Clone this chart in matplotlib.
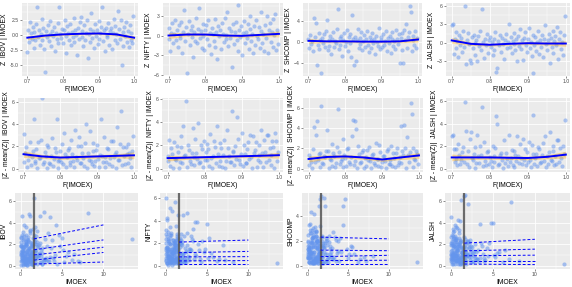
import numpy as np
import matplotlib
matplotlib.use("Agg")
import matplotlib.pyplot as plt
from matplotlib.ticker import AutoMinorLocator, FixedLocator

plt.rcParams['font.family'] = ['Liberation Sans', 'DejaVu Sans']

# ----------------------------------------------
# Dados
# ----------------------------------------------
markets = ["IBOV", "NIFTY", "SHCOMP", "JALSH"]

# F(IMOEX) na cauda (> 0.7): grade da CDF empírica, 120 observações
f_imoex = np.linspace(0.7, 0.9975, 120)

z_ibov = [-2.9, 0.8, -1.2, 2.1, 0.3, -0.6, 1.4, -2.2, 0.5, -0.9,
          1.8, 4.6, -0.3, 0.9, -1.6, 0.2, 2.6, -0.8, 1.1, -2.4,
          -6.2, 0.6, -0.4, 1.7, -1.0, 0.1, 2.3, -1.8, 0.7, -0.2,
          1.3, -2.6, 0.4, -0.7, 2.0, -1.3, 4.6, 0.2, -0.5, 1.0,
          -1.4, 0.8, 2.4, -0.2, -3.0, 1.5, 0.3, -0.9, 1.9, -1.7,
          0.5, -0.4, 2.8, -1.1, 0.9, 0.0, -3.3, 1.2, -0.6, 2.2,
          3.0, -0.3, 0.7, -1.9, 1.6, -0.8, 0.4, 2.5, -3.8, 0.1,
          -1.2, 1.0, 3.6, -0.5, 0.6, -2.1, 1.8, -0.1, 0.9, -1.5,
          2.3, -0.7, 0.3, 1.4, 4.6, -1.0, 0.8, -2.7, 1.2, 0.0,
          -0.4, 2.0, -1.6, 0.6, 1.1, -2.3, 0.4, 2.7, -0.9, 1.5,
          0.2, -1.3, 3.9, 1.0, -0.6, 2.4, -5.0, 0.5, -1.8, 1.3,
          -0.2, 2.1, -1.1, 0.7, -2.0, 1.6, -0.8, 0.3, -1.4, 3.1]
z_nifty = [-0.5, 1.2, -2.3, 0.4, 1.9, -1.1, 0.2, 2.4, -0.7, 0.9,
           -1.8, 1.6, 0.1, -0.4, 2.0, -2.6, 0.6, 3.8, -0.9, 1.3,
           -5.6, 0.3, 2.2, -1.4, 0.8, -0.2, 1.5, -3.3, 0.5, -0.8,
           2.7, -1.2, 1.0, 4.1, -0.3, 0.7, -1.9, 1.8, 0.0, -2.2,
           0.9, 1.6, -0.6, 2.3, -1.5, 0.4, -2.8, 1.1, 0.2, -0.9,
           2.5, -1.7, 0.6, -3.5, 1.4, -0.1, 0.8, -2.0, 1.9, 0.3,
           -1.0, 2.6, 0.1, -0.5, 3.5, -1.6, 1.2, -0.4, 0.7, -4.8,
           1.7, -1.3, 0.5, 2.1, -0.7, 4.6, -2.4, 0.9, -0.2, 1.4,
           -2.9, 0.4, 2.2, -1.1, 0.6, -0.3, 1.8, -2.1, 1.0, 3.0,
           -0.8, 0.2, -2.6, 1.5, -1.4, 2.4, 0.0, -0.6, 1.3, -1.9,
           0.7, 3.5, -1.2, 0.3, -2.3, 1.6, -0.4, 3.0, -2.7, 0.9,
           1.9, -1.0, 0.5, 2.5, -1.7, 0.1, 3.2, -2.2, 0.8, -1.3]
z_shcomp = [0.6, -1.1, 1.3, -0.4, 0.2, -1.7, 4.4, 0.9, 3.6, -4.4,
            -0.6, 1.7, -1.3, 0.4, -5.9, 0.8, -0.2, 1.5, -0.9, 2.0,
            4.1, -1.5, 0.3, -0.7, 1.1, -2.2, 0.5, 1.8, -1.0, 0.1,
            -0.3, 2.4, 6.1, -1.4, 0.7, -0.5, 1.2, -2.6, 0.4, 1.6,
            -0.8, 0.0, 2.2, -1.8, 0.9, -0.2, 1.4, -2.9, 5.1, 0.6,
            -4.4, 1.0, -3.6, 0.3, 2.5, -1.2, 0.8, -0.4, 1.9, -1.6,
            0.2, 1.3, -0.9, 0.5, 2.1, -0.6, -1.9, 1.0, 0.3, -1.1,
            1.7, -0.3, 0.6, -2.3, 1.2, 0.0, -0.7, 2.6, -1.4, 0.4,
            0.9, -1.0, 1.5, -0.5, 0.2, 2.0, -1.7, 0.7, -0.2, 1.1,
            -2.0, 0.5, 1.8, -0.8, 0.1, -1.3, 2.3, 0.6, -0.4, 1.4,
            -3.9, 0.8, -1.5, 1.6, -4.0, 2.3, 0.3, 3.4, -1.1, 0.9,
            1.9, 6.7, 5.6, -1.8, 0.4, 1.2, -0.6, 2.0, -1.2, 0.7]
z_jalsh = [2.9, 3.0, -1.8, 0.6, 1.7, -0.9, 0.3, -2.2, 1.2, -0.4,
           0.8, -1.5, 1.9, -0.6, 5.9, -3.4, 0.4, 1.6, -0.2, -2.7,
           -3.3, 0.9, -0.8, 1.3, 0.0, -1.9, 0.5, -3.0, 1.1, -0.5,
           2.0, -1.2, 5.5, 0.2, -2.4, 0.7, -0.3, 1.5, -1.6, 0.4,
           1.0, -0.7, 0.1, -2.0, 0.6, -1.1, 1.8, -4.7, -4.0, 0.3,
           -0.4, 1.2, -1.4, 0.8, -0.1, -2.6, 0.5, 1.4, -0.9, 0.2,
           3.0, -0.6, 0.9, -1.7, 0.3, 1.6, -0.2, -1.2, 0.7, -2.9,
           1.1, -0.5, 2.2, -1.0, 0.4, -2.7, 0.8, 1.7, -0.3, -1.5,
           0.6, 2.4, -0.8, 0.1, -2.1, -4.8, 1.3, -0.4, 0.9, -1.3,
           0.2, 1.9, -1.8, 0.5, -0.6, 1.2, -2.3, 0.7, 2.9, -0.2,
           -1.1, 0.4, 1.5, -3.3, 0.8, -0.7, 2.0, -1.6, 0.3, 1.1,
           -0.4, 2.5, -2.6, 0.6, 1.8, -1.0, 0.2, -2.0, 1.3, 4.3]
z_top = [z_ibov, z_nifty, z_shcomp, z_jalsh]

# curvas suavizadas (loess)
smooth_x = [0.70, 0.75, 0.80, 0.85, 0.90, 0.95, 1.00]
smooth_top = [[-0.45, -0.1, 0.1, 0.2, 0.25, 0.1, -0.45],
              [0.0, 0.15, 0.15, 0.0, -0.05, 0.1, 0.25],
              [0.2, 0.1, 0.1, 0.05, 0.05, 0.1, 0.45],
              [0.4, -0.15, -0.3, -0.15, -0.05, -0.1, -0.1]]
band_top = [[0.35, 0.22, 0.2, 0.2, 0.2, 0.22, 0.35],
            [0.45, 0.25, 0.22, 0.22, 0.22, 0.25, 0.45],
            [0.45, 0.25, 0.22, 0.22, 0.22, 0.25, 0.5],
            [0.45, 0.25, 0.22, 0.22, 0.22, 0.25, 0.45]]
smooth_mid = [[1.3, 1.1, 1.0, 1.05, 1.1, 1.15, 1.2],
              [0.9, 0.94, 0.98, 1.02, 1.06, 1.1, 1.15],
              [0.95, 1.15, 1.2, 1.1, 0.9, 1.1, 1.3],
              [1.0, 1.0, 1.0, 0.97, 0.95, 1.05, 1.25]]
band_mid = [[0.3, 0.18, 0.16, 0.16, 0.16, 0.18, 0.3],
            [0.25, 0.15, 0.12, 0.12, 0.12, 0.15, 0.25],
            [0.3, 0.2, 0.18, 0.18, 0.18, 0.2, 0.3],
            [0.3, 0.18, 0.16, 0.16, 0.16, 0.18, 0.3]]

# |IMOEX| e |mercado| (todas as observações)
abs_imoex = [0.05, 0.42, 0.88, 1.31, 0.17, 0.63, 1.05, 1.52, 0.29, 0.76,
             1.18, 0.09, 0.55, 0.97, 1.44, 0.22, 0.69, 1.12, 0.36, 0.81,
             1.27, 0.03, 0.48, 0.92, 1.39, 0.14, 0.59, 1.01, 1.58, 0.33,
             0.72, 1.21, 0.07, 0.51, 0.94, 1.35, 0.26, 0.66, 1.09, 1.49,
             0.12, 0.57, 0.85, 1.24, 0.39, 0.01, 0.79, 1.14, 1.55, 0.45,
             0.19, 0.61, 1.03, 1.42, 0.31, 0.74, 1.16, 0.08, 0.53, 0.99,
             1.33, 0.24, 0.68, 1.07, 1.47, 0.15, 0.58, 0.90, 1.29, 0.41,
             0.04, 0.83, 1.20, 1.56, 0.35, 0.71, 1.11, 0.20, 0.64, 1.37,
             0.10, 0.50, 0.96, 1.26, 0.44, 0.86, 1.53, 0.27, 0.77, 1.15,
             0.06, 0.47, 0.89, 1.40, 0.18, 0.62, 1.04, 1.46, 0.32, 0.73,
             1.19, 0.11, 0.54, 0.98, 1.36, 0.25, 0.67, 1.08, 1.59, 0.38,
             0.80, 1.23, 0.02, 0.46, 0.93, 1.30, 0.21, 0.60, 1.13, 1.51,
             0.13, 0.56, 0.84, 1.25, 0.40, 0.16, 0.78, 1.17, 1.43, 0.49,
             0.23, 0.65, 1.06, 1.45, 0.30, 0.75, 1.22, 0.09, 0.52, 1.00,
             1.68, 2.05, 2.41, 1.83, 2.77, 1.72, 2.19, 3.12, 1.95, 2.58,
             1.76, 2.33, 2.90, 1.88, 3.45, 2.12, 1.66, 2.64, 2.01, 3.28,
             1.79, 2.47, 1.92, 2.85, 2.26, 1.70, 3.05, 2.16, 1.86, 2.70,
             2.38, 1.74, 3.36, 2.09, 1.98, 2.54, 1.81, 2.95, 2.22, 3.58,
             1.90, 2.63, 1.67, 2.30, 3.18, 2.00, 2.81, 1.77, 2.44, 3.50,
             3.8, 4.1, 4.6, 5.0, 5.3, 4.3, 3.9, 5.7, 6.2, 4.8,
             6.9, 7.2, 8.1, 5.5, 4.4, 3.7, 6.5, 13.5, 4.0, 5.1]

abs_ibov = [0.4, 1.2, 0.7, 2.1, 4.6, 0.2, 1.6, 0.9, 2.4, 0.5,
            1.0, 0.1, 1.8, 4.8, 0.6, 1.4, 0.3, 2.2, 3.8, 1.1,
            0.8, 2.6, 0.2, 1.5, 1.9, 0.7, 2.9, 0.4, 6.35, 1.3,
            0.6, 1.7, 1.0, 0.3, 2.3, 1.2, 0.5, 1.9, 4.6, 0.8,
            1.5, 0.9, 2.7, 0.2, 0.6, 1.1, 1.4, 3.2, 0.3, 2.0,
            0.7, 3.6, 0.5, 1.3, 0.1, 2.5, 0.9, 1.8, 0.4, 1.6,
            0.2, 1.0, 2.1, 0.7, 3.4, 0.5, 1.5, 0.3, 1.2, 2.8,
            1.9, 0.6, 0.4, 2.3, 1.7, 0.1, 3.0, 0.8, 2.0, 0.5,
            1.3, 0.3, 1.1, 1.8, 0.9, 2.4, 0.2, 1.6, 0.6, 3.3,
            2.2, 0.8, 0.3, 1.4, 1.0, 1.9, 0.6, 2.6, 0.2, 1.2,
            0.4, 1.7, 0.9, 0.2, 2.0, 3.1, 1.3, 0.5, 1.5, 0.7,
            1.1, 0.3, 1.8, 2.5, 0.6, 1.0, 0.4, 2.2, 1.4, 0.1,
            2.9, 0.5, 1.6, 0.9, 0.3, 1.2, 2.0, 0.7, 1.8, 0.2,
            1.4, 2.3, 0.8, 0.4, 1.7, 0.1, 1.1, 2.7, 0.6, 1.5,
            0.3, 1.8, 0.9, 2.8, 0.5, 3.6, 1.2, 0.7, 2.2, 0.2,
            1.4, 4.6, 0.6, 2.0, 0.4, 1.0, 2.6, 1.6, 0.2, 3.0,
            0.8, 0.3, 1.7, 5.0, 1.1, 2.4, 0.5, 1.9, 0.9, 0.6,
            2.1, 1.3, 0.4, 0.7, 3.2, 0.2, 1.5, 2.5, 1.0, 4.5,
            0.6, 1.2, 2.9, 0.3, 1.8, 0.9, 0.4, 2.0, 1.5, 0.8,
            2.4, 1.0, 2.9, 2.6, 0.3, 3.8, 0.7, 1.3, 0.5, 1.8,
            0.4, 0.3, 4.9, 0.9, 0.2, 1.6, 1.1, 2.45, 0.4, 1.5]
abs_nifty = [6.05, 0.9, 0.5, 1.8, 4.2, 1.3, 0.2, 2.4, 0.7, 1.5,
             5.7, 0.4, 1.9, 0.8, 4.5, 4.1, 0.3, 1.2, 2.2, 4.9,
             0.6, 1.6, 5.1, 2.0, 0.9, 0.2, 2.7, 1.4, 0.5, 3.0,
             1.1, 3.5, 0.7, 0.3, 1.7, 2.5, 1.0, 0.4, 2.1, 1.3,
             0.2, 1.5, 2.3, 0.8, 0.5, 2.8, 1.2, 0.6, 1.9, 0.3,
             1.7, 0.4, 1.0, 2.6, 0.9, 0.1, 1.8, 3.2, 0.6, 1.4,
             0.3, 2.2, 0.7, 1.5, 0.2, 1.1, 3.4, 0.5, 1.6, 0.9,
             2.4, 0.6, 1.3, 0.2, 2.0, 0.8, 0.4, 1.7, 2.9, 0.7,
             1.0, 1.9, 0.3, 1.2, 0.6, 2.3, 1.5, 0.1, 0.9, 2.1,
             0.5, 2.7, 1.1, 0.4, 1.6, 0.8, 2.0, 0.3, 1.3, 0.6,
             1.8, 0.2, 2.5, 1.0, 0.7, 1.4, 0.3, 2.2, 1.1, 0.9,
             0.4, 1.6, 2.0, 0.6, 1.2, 0.2, 2.6, 1.0, 0.5, 1.8,
             1.3, 0.7, 0.2, 2.3, 1.5, 0.9, 0.4, 1.7, 2.8, 0.3,
             0.8, 1.2, 1.9, 0.5, 2.4, 1.1, 0.6, 1.4, 0.2, 1.6,
             0.9, 4.5, 1.3, 2.3, 0.5, 1.7, 0.3, 2.6, 1.1, 0.7,
             2.0, 0.4, 1.5, 2.8, 0.6, 1.0, 0.2, 4.65, 1.8, 3.3,
             0.5, 1.2, 2.1, 0.8, 0.3, 2.5, 1.4, 0.6, 1.9, 0.9,
             1.6, 0.3, 2.2, 1.0, 0.7, 2.9, 0.4, 1.3, 2.6, 3.9,
             0.2, 1.8, 1.1, 0.5, 2.4, 0.8, 1.5, 2.2, 0.3, 1.0,
             3.9, 0.6, 1.2, 3.75, 2.5, 0.3, 1.9, 0.8, 0.4, 1.5,
             1.8, 0.5, 0.3, 1.1, 2.2, 0.9, 0.6, 0.2, 1.4, 0.7]
abs_shcomp = [1.1, 4.35, 0.6, 2.2, 0.3, 1.5, 2.8, 0.9, 3.4, 0.4,
              1.7, 0.8, 0.2, 3.1, 4.8, 1.3, 0.5, 2.0, 0.7, 4.2,
              0.9, 2.5, 1.4, 0.3, 1.1, 3.3, 1.8, 0.6, 5.4, 1.0,
              2.3, 0.4, 1.6, 2.9, 0.2, 1.2, 0.7, 3.0, 1.9, 0.5,
              0.3, 1.9, 1.1, 0.6, 2.6, 0.9, 0.2, 1.4, 3.2, 0.8,
              1.5, 0.2, 2.4, 0.7, 1.0, 0.4, 2.0, 1.3, 0.6, 2.7,
              0.4, 1.7, 0.9, 2.1, 0.5, 1.2, 0.3, 1.8, 0.7, 1.0,
              2.0, 1.1, 0.4, 1.6, 2.9, 0.3, 1.3, 0.6, 2.3, 0.9,
              0.6, 2.2, 1.5, 0.2, 1.8, 0.7, 1.0, 2.6, 0.4, 1.4,
              1.9, 0.5, 0.8, 2.0, 0.3, 1.6, 2.4, 0.9, 1.2, 0.2,
              0.7, 1.3, 2.1, 0.5, 1.7, 1.0, 0.4, 2.8, 0.8, 1.5,
              0.3, 1.8, 0.6, 1.1, 2.3, 0.2, 1.4, 0.9, 2.0, 0.5,
              1.2, 0.4, 2.7, 0.8, 1.9, 0.6, 0.3, 1.5, 1.0, 2.2,
              0.9, 2.5, 0.5, 1.3, 0.2, 1.7, 2.0, 0.7, 1.1, 0.4,
              1.2, 5.5, 0.5, 2.3, 1.6, 0.3, 4.8, 2.7, 0.8, 1.9,
              0.6, 2.1, 1.1, 1.7, 0.4, 0.9, 5.6, 2.4, 1.4, 0.7,
              2.0, 0.3, 1.5, 0.8, 2.2, 1.0, 0.5, 1.8, 0.2, 1.3,
              0.9, 1.6, 2.3, 0.4, 1.1, 0.6, 2.4, 1.4, 0.3, 1.0,
              1.8, 0.7, 1.2, 2.0, 0.5, 1.5, 0.9, 0.2, 1.7, 2.1,
              2.0, 1.1, 5.4, 0.6, 1.6, 3.3, 0.4, 0.9, 0.3, 1.3,
              0.7, 0.4, 0.8, 1.5, 4.8, 1.2, 0.5, 0.3, 2.2, 0.9]
abs_jalsh = [4.5, 0.8, 4.3, 1.6, 0.3, 2.2, 4.2, 6.5, 1.1, 0.5,
             6.15, 1.4, 0.6, 2.0, 0.9, 3.4, 1.7, 0.2, 2.6, 1.0,
             0.4, 2.1, 3.8, 0.7, 1.3, 0.5, 2.4, 1.8, 0.9, 3.1,
             1.5, 0.3, 1.9, 2.8, 0.6, 1.2, 0.2, 3.6, 0.8, 1.6,
             0.9, 2.5, 0.4, 1.3, 2.0, 0.6, 1.1, 0.3, 2.7, 1.7,
             0.2, 1.4, 3.0, 0.8, 1.9, 0.5, 2.2, 1.0, 0.4, 3.3,
             1.2, 0.6, 1.6, 2.4, 0.3, 2.9, 0.9, 1.5, 0.2, 1.8,
             0.7, 2.0, 0.4, 1.1, 3.2, 1.4, 0.6, 2.3, 0.9, 0.3,
             1.9, 0.5, 2.6, 0.8, 1.3, 0.2, 1.7, 1.0, 3.5, 0.6,
             0.4, 1.2, 1.8, 0.3, 2.1, 0.9, 0.5, 1.4, 2.5, 1.0,
             2.3, 0.7, 0.2, 1.6, 1.0, 2.8, 0.4, 1.9, 0.6, 1.2,
             0.5, 1.7, 1.1, 2.2, 0.3, 0.8, 1.5, 2.6, 0.2, 1.3,
             1.0, 2.4, 0.6, 0.3, 1.8, 1.2, 2.0, 0.5, 1.4, 0.9,
             1.6, 0.4, 2.2, 1.1, 0.7, 1.5, 0.3, 2.7, 1.0, 0.6,
             6.55, 5.7, 0.8, 2.1, 1.4, 0.4, 1.7, 0.6, 2.3, 1.1,
             1.3, 0.5, 2.0, 0.9, 3.85, 1.6, 2.5, 0.3, 1.0, 1.5,
             0.2, 1.8, 1.1, 0.7, 2.4, 1.4, 0.5, 2.0, 0.9, 1.2,
             1.5, 0.6, 0.3, 2.2, 1.0, 1.7, 0.4, 1.3, 0.8, 2.1,
             1.0, 0.4, 1.9, 1.2, 0.6, 2.3, 0.9, 1.6, 0.3, 0.7,
             1.1, 0.5, 2.1, 3.95, 0.8, 1.6, 0.4, 1.3, 0.3, 3.95,
             0.6, 5.95, 0.4, 1.2, 0.9, 1.8, 1.5, 0.2, 0.7, 1.0]
abs_markets = [abs_ibov, abs_nifty, abs_shcomp, abs_jalsh]

# limiar de |IMOEX| e retas de regressão quantílica (início em u, fim em x = 10)
u_imoex = 1.62
q_x_end = 10
q_start = [[0.15, 0.52, 1.0, 1.48, 2.5],
           [0.12, 0.42, 0.78, 1.15, 2.1],
           [0.16, 0.4, 0.72, 1.25, 2.3],
           [0.15, 0.46, 0.92, 1.38, 2.1]]
q_end = [[0.34, 1.23, 1.72, 2.4, 3.8],
         [0.12, 0.45, 0.8, 1.27, 2.28],
         [0.16, 0.43, 0.83, 1.2, 2.16],
         [0.1, 0.46, 0.98, 1.54, 2.46]]

# ----------------------------------------------
# Layout (pixels) e limites dos eixos
# ----------------------------------------------
W, H = 572, 287
rects = [[(22, 3, 138, 76), (163, 3, 283, 76), (303, 3, 422, 76), (446, 3, 570, 76)],
         [(18, 98, 138, 172), (162, 98, 283, 172), (303, 98, 423, 172), (446, 98, 570, 172)],
         [(15, 193, 138, 269), (160, 193, 283, 269), (302, 193, 423, 269), (445, 193, 570, 269)]]
ylim_top = [(-6.8, 5.3), (-6.1, 4.9), (-6.4, 7.3), (-5.35, 6.45)]
yticks_top = [[-5.0, -2.5, 0.0, 2.5], [-6, -3, 0, 3], [-4, 0, 4], [-3, 0, 3, 6]]
ylim_mid = [(-0.3, 6.35), (-0.29, 6.05), (-0.33, 6.95), (-0.3, 6.3)]
ylim_bot = [(-0.31, 6.77), (-0.3, 6.47), (-0.28, 5.87), (-0.31, 6.77)]
yticks_bot = [[0, 2, 4, 6], [0, 2, 4, 6], [0, 2, 4], [0, 2, 4, 6]]

PT_COLOR = '#6495ED'
PT_SIZE = 9
fig = plt.figure(figsize=(W / 100, H / 100), dpi=100)


def gg_axes(rect):
    l, t, r, b = rect
    ax = fig.add_axes([l / W, 1 - b / H, (r - l) / W, (b - t) / H])
    ax.set_facecolor('#EBEBEB')
    for s in ax.spines.values():
        s.set_visible(False)
    ax.xaxis.set_minor_locator(AutoMinorLocator(2))
    ax.yaxis.set_minor_locator(AutoMinorLocator(2))
    ax.grid(which='major', color='white', lw=0.6)
    ax.grid(which='minor', color='white', lw=0.3)
    ax.set_axisbelow(True)
    ax.tick_params(which='major', length=1.5, width=0.4, color='#333333',
                   labelsize=3.7, labelcolor='#4D4D4D', pad=1)
    ax.tick_params(which='minor', length=0)
    return ax


for j, name in enumerate(markets):
    z = np.array(z_top[j])
    zdev = np.abs(z - z.mean())
    rows = [(z, smooth_top[j], band_top[j], f"Z  {name} | IMOEX", ylim_top[j], yticks_top[j]),
            (zdev, smooth_mid[j], band_mid[j], f"|Z - mean(Z)|  {name} | IMOEX", ylim_mid[j], [0, 2, 4, 6])]
    for i, (yv, sm, bd, lab, yl, yt) in enumerate(rows):
        ax = gg_axes(rects[i][j])
        ax.scatter(f_imoex, yv, s=PT_SIZE, color=PT_COLOR, alpha=0.5, lw=0)
        sm = np.array(sm)
        bd = np.array(bd)
        ax.fill_between(smooth_x, sm - bd, sm + bd, color='#FFA500', alpha=0.35, lw=0)
        ax.plot(smooth_x, sm, color='blue', lw=1.4)
        ax.set_xlim(0.685, 1.011)
        ax.set_xticks([0.7, 0.8, 0.9, 1.0])
        ax.set_xticklabels(["0.7", "0.8", "0.9", "1.0"])
        ax.set_ylim(*yl)
        ax.yaxis.set_major_locator(FixedLocator(yt))
        if i == 0 and j == 0:
            ax.set_yticklabels(["-5.0", "-2.5", "0.0", "2.5"])
        ax.yaxis.set_minor_locator(AutoMinorLocator(2))
        ax.set_xlabel("F(IMOEX)", fontsize=4.9, labelpad=1)
        ax.set_ylabel(lab, fontsize=4.9, labelpad=1)

    # linha inferior: |IMOEX| x |mercado|
    ax = gg_axes(rects[2][j])
    ax.scatter(abs_imoex, abs_markets[j], s=PT_SIZE, color=PT_COLOR, alpha=0.55, lw=0)
    ax.axvline(u_imoex, color='#555555', lw=1.6, alpha=0.85)
    for a, b in zip(q_start[j], q_end[j]):
        ax.plot([u_imoex, q_x_end], [a, b], color='blue', lw=0.7, ls=(0, (3, 2)))
    ax.set_xlim(-0.68, 14.18)
    ax.set_xticks([0, 5, 10])
    ax.set_ylim(*ylim_bot[j])
    ax.yaxis.set_major_locator(FixedLocator(yticks_bot[j]))
    ax.yaxis.set_minor_locator(AutoMinorLocator(2))
    ax.set_xlabel("IMOEX", fontsize=4.9, labelpad=1)
    ax.set_ylabel(name, fontsize=4.9, labelpad=1)

fig.savefig("out.png", dpi=100)
